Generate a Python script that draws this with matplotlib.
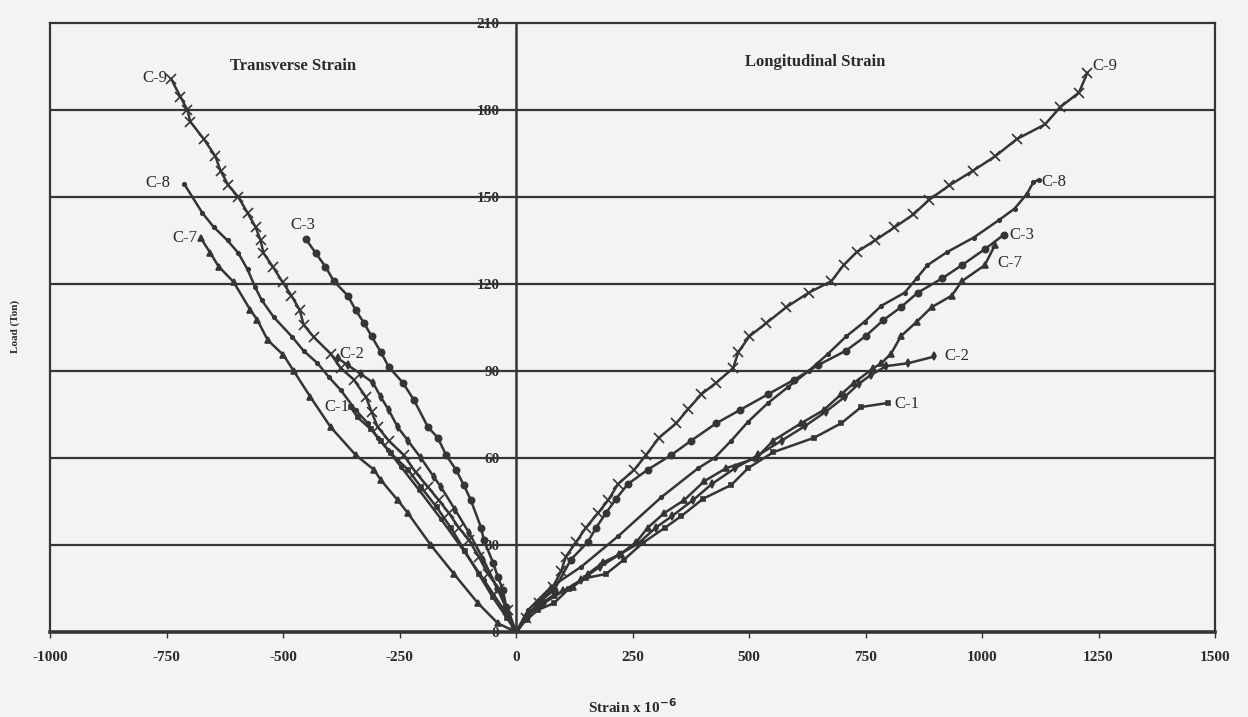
import matplotlib
matplotlib.use("Agg")
import matplotlib.pyplot as plt

# load (ton) vs strain (x 1e-6)
# transverse strain (negative side)
c9_t_strain = [0, -17, -37, -60, -80, -101, -123, -144, -166, -189, -215, -241, -273, -297, -310,
               -322, -348, -376, -398, -434, -456, -464, -482, -501, -522, -542, -548, -559, -576,
               -596, -617, -634, -645, -670, -699, -705, -720, -740]
c9_t_load = [0, 7.6, 15, 20, 26, 31.7, 36, 41, 45.5, 50, 55, 61, 66, 70.7, 76,
             81, 87, 91, 96, 101.7, 106, 111, 116, 120.7, 126, 130.7, 135, 139.7, 144.5,
             150, 154, 159, 164, 170, 176, 180, 184.5, 190.7]

c8_t_strain = [0, -26, -69, -112, -161, -208, -247, -275, -297, -318, -344, -376, -402, -426, -456,
               -480, -520, -546, -560, -576, -596, -619, -649, -673, -712]
c8_t_load = [0, 7.6, 18, 28, 39, 49, 57, 62.8, 67, 72, 76.5, 83.4, 88, 92.7, 97,
             101.7, 108.6, 114.5, 119, 125, 130.7, 135, 139.7, 144.5, 154.5]

c7_t_strain = [0, -39, -82, -133, -183, -232, -254, -290, -305, -344, -398, -441, -477, -499, -533,
               -555, -570, -606, -638, -656, -677]
c7_t_load = [0, 3, 10, 20, 30, 41, 45.5, 52.4, 56, 61, 70.7, 81, 90, 95.5, 100.7,
             107.6, 111, 120.7, 126, 130.7, 136]

c3_t_strain = [0, -21, -28, -39, -49, -69, -75, -97, -112, -129, -150, -168, -189, -219, -243,
               -273, -290, -310, -326, -344, -361, -391, -409, -430, -451]
c3_t_load = [0, 8.6, 14.5, 19, 23.8, 31.7, 36, 45.5, 50.7, 56, 61, 67, 70.7, 80, 86,
             91.4, 96.5, 102, 106.5, 111, 116, 121, 126, 130.7, 135.5]

c2_t_strain = [0, -15, -40, -70, -100, -130, -161, -176, -204, -232, -254, -273, -290, -307, -333,
               -361, -383]
c2_t_load = [0, 6, 15, 25, 34, 42, 50, 53.4, 60, 66, 70.7, 76.5, 81, 86, 89,
             92, 94.5]

c1_t_strain = [0, -20, -50, -80, -110, -140, -170, -204, -232, -269, -290, -312, -340, -355]
c1_t_load = [0, 5, 12, 20, 28, 36, 43, 50, 56, 61.7, 66, 70, 74, 77.6]

# longitudinal strain (positive side)
c9_l_strain = [0, 21, 49, 79, 97, 107, 129, 150, 176, 198, 219, 254, 279, 307, 344,
               370, 398, 430, 466, 477, 501, 537, 580, 628, 677, 703, 731, 770, 812, 853,
               886, 930, 980, 1028, 1075, 1135, 1168, 1208, 1226]
c9_l_load = [0, 5, 10, 15.5, 21, 26, 31, 36, 41, 45.5, 51, 56, 61, 67, 72,
             77, 82, 86, 91, 96.5, 102, 106.5, 112, 117, 121, 126.5, 131, 135, 139.5, 144,
             149, 154, 159, 164, 170, 175, 181, 186, 192.8]

c8_l_strain = [0, 26, 75, 140, 219, 312, 391, 426, 462, 498, 541, 584, 628, 670, 709,
               748, 784, 834, 860, 883, 925, 982, 1036, 1070, 1096, 1110, 1122]
c8_l_load = [0, 7.6, 15.5, 22.5, 33, 46.5, 56.5, 60, 66, 72.5, 79, 84.5, 90, 96, 102,
             107, 112.5, 117, 122, 126.5, 131, 136, 142, 146, 151, 155, 156]

c3_l_strain = [0, 21, 47, 82, 118, 154, 172, 193, 215, 240, 283, 333, 376, 430, 480,
               541, 597, 648, 708, 750, 788, 826, 862, 915, 957, 1006, 1047]
c3_l_load = [0, 5, 10, 14.5, 25, 31, 36, 41, 46, 51, 56, 61, 66, 72, 76.5,
             82, 87, 92, 97, 102, 107.5, 112, 117, 122, 126.5, 132, 137]

c7_l_strain = [0, 20, 49, 82, 122, 154, 187, 225, 258, 283, 318, 361, 404, 451, 516,
               552, 612, 660, 698, 726, 767, 784, 805, 826, 860, 892, 935, 957, 1006, 1028]
c7_l_load = [0, 5, 9.3, 12.8, 15.5, 20, 24, 27, 31, 36, 41, 45.5, 52, 56.5, 60,
             66, 72, 76.5, 82, 86, 91, 92.7, 96, 102, 107, 112, 116, 121, 126.5, 133.5]

c2_l_strain = [0, 26, 60, 100, 140, 180, 220, 262, 300, 335, 380, 420, 470, 520, 570,
               620, 665, 705, 735, 761, 795, 842, 898]
c2_l_load = [0, 6, 10, 14, 18, 22.5, 26.5, 30.5, 36, 40, 45.5, 51, 56.5, 61, 66,
             71, 76, 81, 85.5, 88.6, 91.7, 92.7, 95]

c1_l_strain = [0, 21, 47, 82, 114, 150, 193, 232, 272, 320, 355, 402, 462, 498, 552,
               640, 698, 741, 799]
c1_l_load = [0, 4, 7.6, 10, 15, 18.6, 20, 25, 30.7, 36, 40, 46, 50.7, 56.5, 62,
             67, 72, 77.6, 79]

x_ticks = [-1000, -750, -500, -250, 0, 250, 500, 750, 1000, 1250, 1500]
y_ticks = [0, 30, 60, 90, 120, 150, 180, 210]

INK = "#353535"
PAPER = "#f3f3f1"
SERIF = "Liberation Serif"


def main():
    fig = plt.figure(figsize=(12.48, 7.17), dpi=100, facecolor=PAPER)
    ax = fig.add_axes([50 / 1248, 85 / 717, 1165 / 1248, 609 / 717])
    ax.set_facecolor(PAPER)
    ax.set_xlim(x_ticks[0], x_ticks[-1])
    ax.set_ylim(y_ticks[0], y_ticks[-1])

    for y in y_ticks[1:-1]:
        ax.axhline(y, color=INK, lw=1.6, zorder=1)

    # (strain, load, marker, size, label, label offset in points, ha)
    series = [
        (c9_t_strain, c9_t_load, "x", 6.5, "C-9", (-3, 1), "right"),
        (c8_t_strain, c8_t_load, "o", 2.5, "C-8", (-10, 1), "right"),
        (c7_t_strain, c7_t_load, "^", 5, "C-7", (-2, 0), "right"),
        (c3_t_strain, c3_t_load, "o", 4.5, "C-3", (-2, 10), "center"),
        (c2_t_strain, c2_t_load, "d", 4, "C-2", (1, 3), "left"),
        (c1_t_strain, c1_t_load, "s", 3.5, "C-1", (-1, 0), "right"),
        (c9_l_strain, c9_l_load, "x", 6.5, "C-9", (4, 5), "left"),
        (c8_l_strain, c8_l_load, "o", 2.5, "C-8", (2, -2), "left"),
        (c3_l_strain, c3_l_load, "o", 4.5, "C-3", (4, 0), "left"),
        (c7_l_strain, c7_l_load, "^", 5, "C-7", (2, -13), "left"),
        (c2_l_strain, c2_l_load, "d", 4, "C-2", (7, 0), "left"),
        (c1_l_strain, c1_l_load, "s", 3.5, "C-1", (4, -1), "left"),
    ]
    for strain, load, marker, size, label, offset, ha in series:
        ax.plot(strain, load, color=INK, lw=1.8, marker=marker, ms=size,
                mew=1.2, mfc=INK, mec=INK, zorder=3)
        ax.annotate(label, (strain[-1], load[-1]), xytext=offset,
                    textcoords="offset points", ha=ha, va="center",
                    fontsize=12, family=SERIF, color="#2a2a2a")

    ax.text(-478, 195, "Transverse Strain", ha="center", va="center",
            fontsize=12, fontweight="bold", family=SERIF, color="#2a2a2a")
    ax.text(641, 196.5, "Longitudinal Strain", ha="center", va="center",
            fontsize=12, fontweight="bold", family=SERIF, color="#2a2a2a")

    for side in ("left", "right", "top"):
        ax.spines[side].set_linewidth(1.6)
        ax.spines[side].set_color(INK)
    ax.spines["bottom"].set_linewidth(2.6)
    ax.spines["bottom"].set_color(INK)

    ax.set_xticks(x_ticks)
    ax.set_xticklabels([str(t) for t in x_ticks], family=SERIF, fontweight="bold", fontsize=11)
    ax.tick_params(axis="x", direction="out", length=4, width=1, pad=10, colors=INK,
                   labelcolor="#2a2a2a")
    ax.set_yticks([])

    # y axis drawn through strain = 0
    zero_frac = (0 - x_ticks[0]) / (x_ticks[-1] - x_ticks[0])
    yax = ax.secondary_yaxis(zero_frac)
    yax.set_yticks(y_ticks)
    yax.set_yticklabels([str(t) for t in y_ticks], family=SERIF, fontweight="bold", fontsize=11)
    yax.tick_params(length=0, pad=12, labelcolor="#2a2a2a")
    yax.spines["left"].set_linewidth(1.8)
    yax.spines["left"].set_color(INK)

    ax.set_xlabel("Strain x 10$^{\\mathbf{-6}}$", family=SERIF, fontweight="bold",
                  fontsize=11, labelpad=24, color="#2a2a2a")
    fig.text(15 / 1248, 0.545, "Load (Ton)", rotation=90, ha="center", va="center",
             fontsize=8, fontweight="bold", family=SERIF, color="#2a2a2a")

    fig.savefig("out.png", dpi=100, facecolor=PAPER)
    plt.close(fig)


if __name__ == "__main__":
    main()
